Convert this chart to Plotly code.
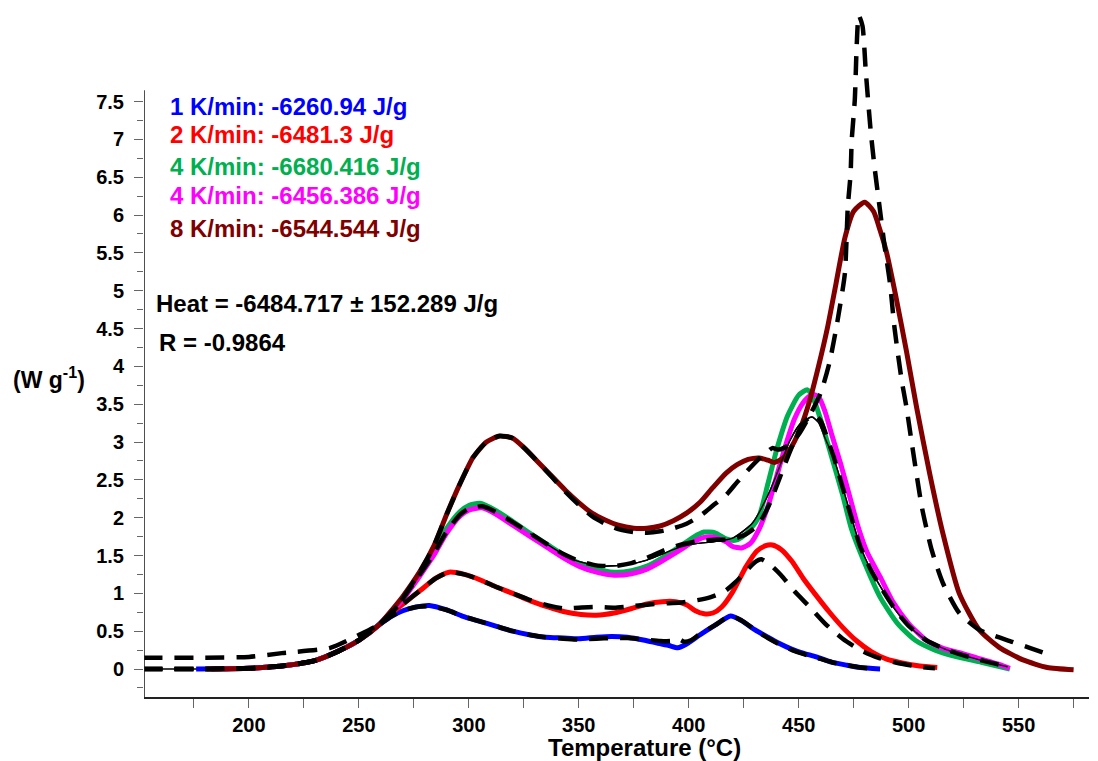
import plotly.graph_objects as go

# ---- measured heat-flow curves (temperature in °C, heat flow in W/g) ----
t_1k = [176, 190, 200, 215, 230, 241, 250, 259, 265, 270, 276, 282, 290, 297, 305, 313, 320, 328, 335, 343,
        350, 358, 365, 372, 380, 386, 391, 395, 399, 405, 412, 419, 424, 430, 436, 441, 447, 452, 458, 465,
        472, 478, 487]
q_1k = [0.0, 0.005, 0.01, 0.04, 0.11, 0.24, 0.38, 0.58, 0.70, 0.77, 0.82, 0.84, 0.78, 0.70, 0.63, 0.56, 0.50,
        0.45, 0.42, 0.41, 0.40, 0.42, 0.43, 0.42, 0.38, 0.34, 0.31, 0.28, 0.33, 0.45, 0.58, 0.70, 0.64, 0.52,
        0.42, 0.34, 0.26, 0.21, 0.16, 0.09, 0.05, 0.02, 0.0]

t_2k = [181, 200, 215, 230, 241, 250, 259, 265, 271, 278, 285, 291, 298, 305, 312, 320, 328, 336, 343, 351,
        358, 366, 374, 381, 388, 394, 399, 403, 407, 411, 415, 420, 426, 431, 435, 438, 442, 447, 452, 458,
        464, 470, 476, 483, 490, 497, 505, 513]
q_2k = [0.0, 0.01, 0.04, 0.11, 0.24, 0.38, 0.58, 0.74, 0.88, 1.04, 1.20, 1.28, 1.25, 1.18, 1.09, 1.00, 0.90,
        0.82, 0.76, 0.72, 0.71, 0.74, 0.80, 0.86, 0.89, 0.89, 0.85, 0.77, 0.73, 0.74, 0.82, 1.02, 1.35, 1.56,
        1.63, 1.64, 1.58, 1.42, 1.20, 0.97, 0.75, 0.55, 0.38, 0.23, 0.13, 0.08, 0.04, 0.02]

t_4k_a = [182, 200, 215, 230, 241, 250, 259, 265, 270, 277, 284, 290, 296, 300, 305, 312, 320, 328, 336, 343,
          350, 358, 366, 374, 381, 388, 396, 402, 407, 412, 417, 421, 424, 428, 432, 436, 440, 445, 450, 454,
          457, 461, 465, 470, 474, 480, 487, 495, 503, 512, 522, 533, 546]
q_4k_a = [0.0, 0.01, 0.04, 0.11, 0.24, 0.38, 0.58, 0.76, 0.93, 1.24, 1.56, 1.86, 2.08, 2.16, 2.19, 2.10, 1.95,
          1.79, 1.64, 1.51, 1.40, 1.32, 1.28, 1.30, 1.36, 1.47, 1.62, 1.74, 1.81, 1.80, 1.72, 1.70, 1.74, 1.85,
          2.02, 2.45, 2.90, 3.35, 3.62, 3.69, 3.55, 3.20, 2.80, 2.30, 1.85, 1.40, 0.95, 0.60, 0.38, 0.25, 0.16,
          0.09, 0.0]

t_4k_b = [182, 200, 215, 230, 241, 250, 259, 265, 270, 277, 284, 290, 296, 300, 306, 312, 320, 328, 336, 343,
          350, 358, 366, 374, 381, 388, 396, 402, 407, 412, 417, 420, 424, 428, 432, 436, 440, 444, 448, 452,
          456, 459, 462, 465, 469, 473, 477, 481, 487, 493, 500, 508, 516, 525, 533, 540, 546]
q_4k_b = [0.0, 0.01, 0.04, 0.11, 0.24, 0.38, 0.58, 0.76, 0.92, 1.20, 1.50, 1.80, 2.02, 2.10, 2.13, 2.05, 1.90,
          1.75, 1.60, 1.47, 1.36, 1.28, 1.24, 1.26, 1.32, 1.43, 1.57, 1.68, 1.74, 1.74, 1.68, 1.62, 1.60, 1.66,
          1.85, 2.15, 2.55, 2.95, 3.30, 3.52, 3.63, 3.60, 3.40, 3.10, 2.72, 2.30, 1.88, 1.55, 1.22, 0.88, 0.60,
          0.38, 0.27, 0.20, 0.13, 0.07, 0.01]

t_8k = [183, 200, 215, 230, 241, 250, 259, 265, 270, 278, 284, 290, 296, 302, 308, 314, 320, 326, 332, 338,
        344, 350, 356, 362, 368, 375, 381, 387, 393, 399, 405, 411, 417, 422, 427, 432, 436, 439, 443, 447,
        451, 455, 459, 463, 467, 471, 475, 480, 484, 487, 490, 494, 499, 503.6, 509.5, 515.5, 523, 532, 541,
        552, 563, 575]
q_8k = [0.0, 0.01, 0.04, 0.11, 0.24, 0.38, 0.58, 0.78, 0.96, 1.30, 1.62, 2.05, 2.45, 2.80, 3.00, 3.08, 3.05,
        2.90, 2.72, 2.54, 2.36, 2.20, 2.06, 1.97, 1.90, 1.86, 1.86, 1.89, 1.96, 2.06, 2.20, 2.40, 2.59, 2.70,
        2.77, 2.79, 2.76, 2.73, 2.79, 2.95, 3.20, 3.55, 4.00, 4.50, 5.10, 5.70, 6.05, 6.17, 6.05, 5.80, 5.50,
        4.95, 4.20, 3.46, 2.59, 1.80, 1.00, 0.52, 0.29, 0.12, 0.02, -0.01]

# ---- model curves ----
t_fit_1k = [152, 180, 200, 215, 230, 241, 250, 259, 265, 270, 276, 282, 290, 297, 305, 313, 320, 328, 335, 343,
            350, 358, 365, 372, 380, 387, 392, 395, 398, 401, 405, 412, 419, 424, 430, 436, 441, 447, 452, 458,
            465, 472, 478, 486]
q_fit_1k = [0.0, 0.0, 0.01, 0.04, 0.11, 0.24, 0.38, 0.58, 0.70, 0.77, 0.82, 0.83, 0.78, 0.70, 0.63, 0.56, 0.50,
            0.45, 0.42, 0.40, 0.39, 0.40, 0.41, 0.41, 0.39, 0.37, 0.37, 0.40, 0.36, 0.38, 0.46, 0.58, 0.70, 0.64,
            0.52, 0.41, 0.33, 0.25, 0.20, 0.15, 0.09, 0.05, 0.02, 0.0]

t_fit_2k = [152, 180, 200, 215, 230, 241, 250, 259, 265, 271, 278, 285, 291, 298, 305, 312, 320, 328, 336, 343,
            350, 358, 366, 374, 381, 390, 397, 404, 410, 416, 421, 426, 430, 433, 437, 442, 448, 455, 462, 470,
            478, 486, 495, 505, 512]
q_fit_2k = [0.0, 0.0, 0.01, 0.04, 0.11, 0.24, 0.38, 0.58, 0.74, 0.88, 1.04, 1.20, 1.28, 1.25, 1.18, 1.09, 1.00,
            0.91, 0.84, 0.80, 0.81, 0.82, 0.81, 0.83, 0.85, 0.87, 0.88, 0.91, 0.95, 1.02, 1.14, 1.29, 1.41, 1.45,
            1.38, 1.24, 1.03, 0.82, 0.60, 0.40, 0.25, 0.15, 0.08, 0.03, 0.01]

t_fit_4k = [152, 180, 200, 215, 230, 241, 250, 259, 265, 270, 277, 284, 290, 296, 300, 306, 312, 320, 328, 336,
            343, 350, 358, 366, 374, 381, 388, 396, 404, 412, 419, 426, 432, 437, 441, 445, 449, 453, 457, 460,
            463, 466, 470, 474, 478, 483, 488, 494, 500, 508, 516, 525, 535, 545]
q_fit_4k = [0.0, 0.0, 0.01, 0.04, 0.11, 0.24, 0.38, 0.58, 0.76, 0.93, 1.22, 1.52, 1.82, 2.04, 2.12, 2.15, 2.08,
            1.94, 1.79, 1.64, 1.52, 1.43, 1.37, 1.36, 1.40, 1.47, 1.56, 1.64, 1.69, 1.71, 1.71, 1.78, 1.92, 2.20,
            2.50, 2.80, 3.08, 3.28, 3.36, 3.28, 3.05, 2.80, 2.40, 2.00, 1.62, 1.30, 1.05, 0.78, 0.57, 0.38, 0.27,
            0.18, 0.10, 0.03]

t_fit_4k_b = [152, 180, 200, 215, 230, 241, 250, 259, 265, 270, 277, 284, 290, 296, 300, 306, 312, 320, 328,
              336, 347, 360, 372, 381, 388, 396, 404, 411, 420, 429, 437, 441, 446, 451, 456, 459, 462, 466, 470,
              474, 478, 483, 488, 494, 500, 508, 516, 525, 535, 545]
q_fit_4k_b = [0.0, 0.0, 0.01, 0.04, 0.11, 0.24, 0.38, 0.58, 0.76, 0.93, 1.22, 1.52, 1.82, 2.04, 2.12, 2.15,
              2.08, 1.94, 1.79, 1.64, 1.45, 1.36, 1.38, 1.44, 1.52, 1.61, 1.66, 1.68, 1.73, 1.93, 2.36, 2.65,
              3.02, 3.25, 3.33, 3.26, 3.05, 2.78, 2.40, 2.00, 1.62, 1.30, 1.05, 0.78, 0.57, 0.38, 0.27, 0.18,
              0.10, 0.03]

t_fit_8k = [152, 180, 200, 215, 237, 250, 261, 268, 278, 284, 290, 296, 302, 308, 314, 320, 326, 332, 338, 344,
            350, 356, 362, 368, 375, 381, 387, 393, 399, 405, 411, 417, 422, 427, 432, 436, 438, 441, 445, 450,
            455, 460, 464, 467.7, 471, 472.3, 473.6, 474.1, 475.5, 476.4, 477.3, 479, 480.5, 482.7, 484.5, 486.8,
            489, 491.5, 493.6, 496.8, 499, 501.4, 506, 510.5, 515.5, 523, 532, 547, 555, 563]
q_fit_8k = [0.15, 0.15, 0.16, 0.21, 0.28, 0.45, 0.62, 0.85, 1.30, 1.62, 2.05, 2.45, 2.80, 3.00, 3.08, 3.05, 2.90,
            2.72, 2.53, 2.34, 2.17, 2.02, 1.92, 1.85, 1.81, 1.80, 1.82, 1.86, 1.92, 2.02, 2.16, 2.30, 2.47, 2.63,
            2.78, 2.88, 2.92, 2.90, 2.95, 3.10, 3.35, 3.65, 4.05, 4.61, 5.23, 6.10, 6.55, 6.99, 7.52, 8.26, 8.64,
            8.50, 7.90, 7.12, 6.63, 6.10, 5.60, 5.10, 4.50, 3.82, 3.46, 2.99, 2.14, 1.57, 1.14, 0.74, 0.52, 0.36,
            0.28, 0.20]

# ---- annotations ----
rate_labels = ["1 K/min: -6260.94 J/g", "2 K/min: -6481.3 J/g", "4 K/min: -6680.416 J/g",
               "4 K/min: -6456.386 J/g", "8 K/min: -6544.544 J/g"]
rate_colors = ["#0000FF", "#FF0000", "#00B050", "#FF00FF", "#800000"]
label_y = [7.43, 7.07, 6.64, 6.26, 5.82]
heat_text = "Heat = -6484.717 ± 152.289 J/g"
r_text = "R = -0.9864"

y_ticks = [i * 0.5 for i in range(16)]
y_tick_text = ["0", "0.5", "1", "1.5", "2", "2.5", "3", "3.5", "4", "4.5", "5", "5.5", "6", "6.5", "7", "7.5"]
y_minor = [-0.25] + [i * 0.5 + 0.25 for i in range(15)]
x_ticks = [200, 250, 300, 350, 400, 450, 500, 550]
x_minor = [175, 225, 275, 325, 375, 425, 475, 525, 575]

FONT = "Liberation Sans, Arial, sans-serif"
X_MIN, X_MAX = 152.3, 582.0
Y_MIN, Y_MAX = -0.37, 8.75

fig = go.Figure()

# thin model line first so it sits at the zero baseline under the other curves
fig.add_trace(go.Scatter(x=t_fit_4k_b, y=q_fit_4k_b, mode="lines",
                         line=dict(color="black", width=1.4, shape="spline", smoothing=0.6),
                         showlegend=False, hoverinfo="skip"))

measured = [(t_1k, q_1k), (t_2k, q_2k), (t_4k_a, q_4k_a), (t_4k_b, q_4k_b), (t_8k, q_8k)]
for (t, q), c in zip(measured, rate_colors):
    fig.add_trace(go.Scatter(x=t, y=q, mode="lines",
                             line=dict(color=c, width=5, shape="spline", smoothing=0.6),
                             showlegend=False, hoverinfo="skip"))

# thin model line drawn again over the 4 K/min curves in the peak region
fig.add_trace(go.Scatter(x=t_fit_4k_b[18:], y=q_fit_4k_b[18:], mode="lines",
                         line=dict(color="black", width=1.4, shape="spline", smoothing=0.6),
                         showlegend=False, hoverinfo="skip"))

for t, q in [(t_fit_1k, q_fit_1k), (t_fit_2k, q_fit_2k), (t_fit_4k, q_fit_4k), (t_fit_8k, q_fit_8k)]:
    fig.add_trace(go.Scatter(x=t, y=q, mode="lines",
                             line=dict(color="black", width=4.5, dash="19px,12px", shape="spline",
                                       smoothing=0.6),
                             showlegend=False, hoverinfo="skip"))

for txt, c, y in zip(rate_labels, rate_colors, label_y):
    fig.add_annotation(x=163.2, y=y, xref="x", yref="y", text=txt, showarrow=False, xanchor="left",
                       yanchor="middle", font=dict(family=FONT, size=24, color=c, weight="bold"))

fig.add_annotation(x=157.0, y=4.83, xref="x", yref="y", text=heat_text, showarrow=False, xanchor="left",
                   yanchor="middle", font=dict(family=FONT, size=24, color="black", weight="bold"))
fig.add_annotation(x=158.3, y=4.32, xref="x", yref="y", text=r_text, showarrow=False, xanchor="left",
                   yanchor="middle", font=dict(family=FONT, size=24, color="black", weight="bold"))

# y-axis unit label and x-axis title
fig.add_annotation(x=-0.141, y=0.462, xref="paper", yref="paper", text="(W g<sup>-1</sup>)",
                   showarrow=False, xanchor="left", yanchor="middle",
                   font=dict(family=FONT, size=23, color="black", weight="bold"))
fig.add_annotation(x=0.530, y=-0.0725, xref="paper", yref="paper", text="Temperature (°C)",
                   showarrow=False, xanchor="center", yanchor="middle",
                   font=dict(family=FONT, size=24, color="black", weight="bold"))

# left axis line stops just above the last tick
fig.add_shape(type="line", xref="x", yref="y", x0=X_MIN, x1=X_MIN, y0=Y_MIN, y1=7.65,
              line=dict(color="#222222", width=1.6))

fig.update_layout(
    width=1098, height=761,
    margin=dict(l=144, r=9, t=7, b=64),
    plot_bgcolor="white", paper_bgcolor="white",
    showlegend=False,
    xaxis=dict(range=[X_MIN, X_MAX], showgrid=False, zeroline=False,
               showline=True, linecolor="#222222", linewidth=1.6,
               tickmode="array", tickvals=x_ticks, ticktext=[str(v) for v in x_ticks],
               ticks="outside", ticklen=9, tickwidth=1.2, tickcolor="#666666",
               minor=dict(tickvals=x_minor, ticks="outside", ticklen=9, tickwidth=1.2, tickcolor="#666666"),
               tickfont=dict(family=FONT, size=20, color="black", weight="bold")),
    yaxis=dict(range=[Y_MIN, Y_MAX], showgrid=False, zeroline=False, showline=False,
               tickmode="array", tickvals=y_ticks, ticktext=y_tick_text,
               ticks="outside", ticklen=9, tickwidth=1.2, tickcolor="#666666", ticklabelstandoff=6,
               minor=dict(tickvals=y_minor, ticks="outside", ticklen=6, tickwidth=1.2, tickcolor="#666666"),
               tickfont=dict(family=FONT, size=20, color="black", weight="bold")),
)

fig.write_html("out.html")
